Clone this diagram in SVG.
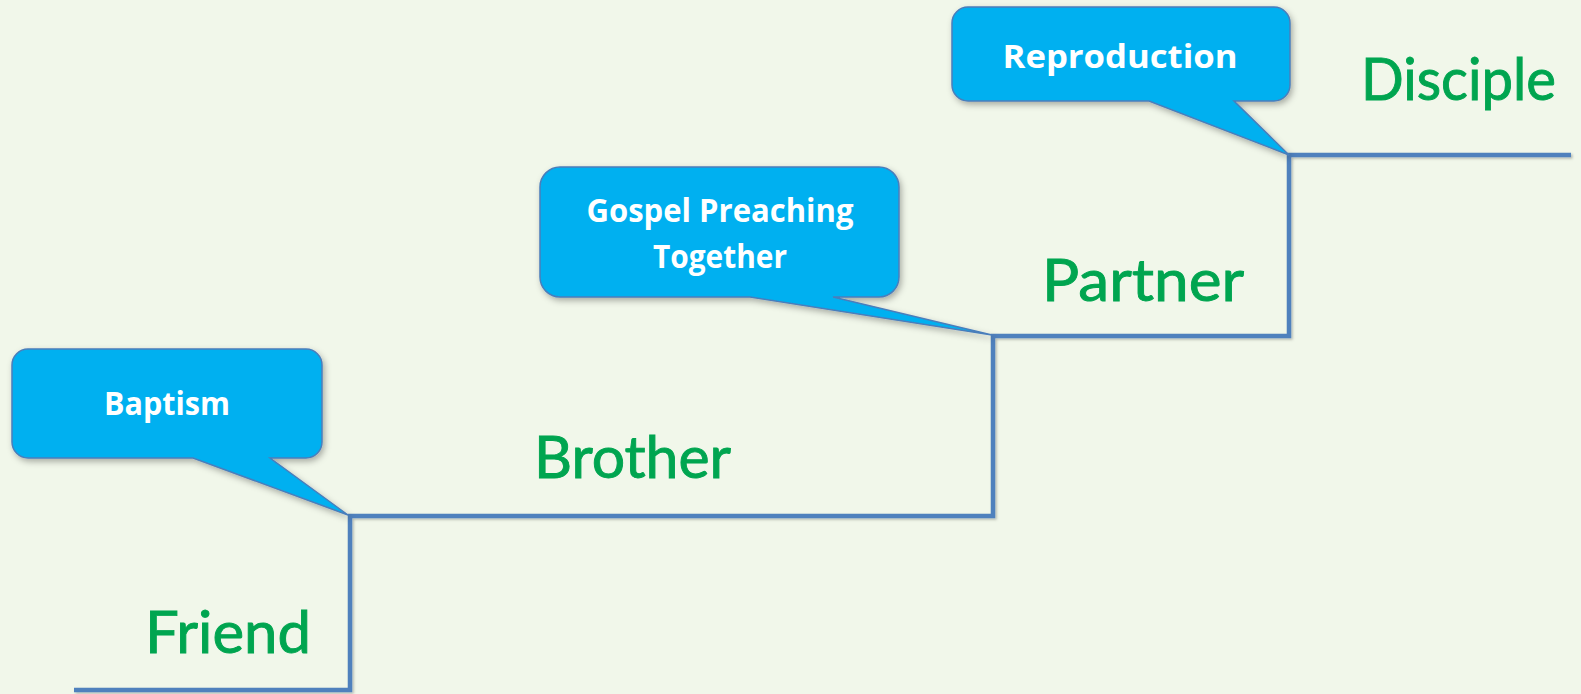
<svg xmlns="http://www.w3.org/2000/svg" width="1581" height="694" viewBox="0 0 1581 694">
<defs>
<filter id="sh" x="-10%" y="-10%" width="130%" height="140%">
<feDropShadow dx="2" dy="3" stdDeviation="3" flood-color="#000" flood-opacity="0.3"/>
</filter>
<filter id="lsh" x="-5%" y="-5%" width="110%" height="120%">
<feDropShadow dx="1.5" dy="1.5" stdDeviation="1" flood-color="#000" flood-opacity="0.25"/>
</filter>
<style>
.callout{fill:#00B0F0;stroke:#4A7EBB;stroke-width:1.5;filter:url(#sh)}
.ct{font-family:"Open Sans","Liberation Sans",sans-serif;font-weight:bold;font-size:32px;fill:#FFFFFF;text-anchor:middle}
.lab{font-family:Lato,"Open Sans",sans-serif;font-size:58px;fill:#00A550;stroke:#00A550;stroke-width:0.9;font-weight:normal}
.stair{fill:none;stroke:#4F81BD;stroke-width:4.5;filter:url(#lsh)}
</style>
</defs>
<rect width="1581" height="694" fill="#F1F7EA"/>
<g id="connectors">
<polyline class="stair" points="74,690 350,690 350,516 993,516 993,336 1289,336 1289,155 1571,155"/>
</g>
<g id="baptism">
<path class="callout" d="M28,349 H306 A16,16 0 0 1 322,365 V442 A16,16 0 0 1 306,458 H270 L348,515 L193,458 H28 A16,16 0 0 1 12,442 V365 A16,16 0 0 1 28,349 Z"/>
<text class="ct" x="167" y="415" textLength="126" lengthAdjust="spacingAndGlyphs">Baptism</text>
</g>
<g id="gospel">
<path class="callout" d="M560,167 H879 A20,20 0 0 1 899,187 V277 A20,20 0 0 1 879,297 H833 L992,335 L750,297 H560 A20,20 0 0 1 540,277 V187 A20,20 0 0 1 560,167 Z"/>
<text class="ct" x="720" y="222" textLength="267" lengthAdjust="spacingAndGlyphs">Gospel Preaching</text>
<text class="ct" x="720" y="268" textLength="134" lengthAdjust="spacingAndGlyphs">Together</text>
</g>
<g id="reproduction">
<path class="callout" d="M968,7 H1274 A16,16 0 0 1 1290,23 V85 A16,16 0 0 1 1274,101 H1234 L1289,155 L1149,101 H968 A16,16 0 0 1 952,85 V23 A16,16 0 0 1 968,7 Z"/>
<text class="ct" x="1120" y="68" textLength="235" lengthAdjust="spacingAndGlyphs">Reproduction</text>
</g>
<g id="friend"><text class="lab" x="145" y="653" textLength="166" lengthAdjust="spacingAndGlyphs">Friend</text></g>
<g id="brother"><text class="lab" x="534" y="478" textLength="197" lengthAdjust="spacingAndGlyphs">Brother</text></g>
<g id="partner"><text class="lab" x="1042" y="301" textLength="202" lengthAdjust="spacingAndGlyphs">Partner</text></g>
<g id="disciple"><text class="lab" x="1361" y="100" textLength="195" lengthAdjust="spacingAndGlyphs">Disciple</text></g>
</svg>
